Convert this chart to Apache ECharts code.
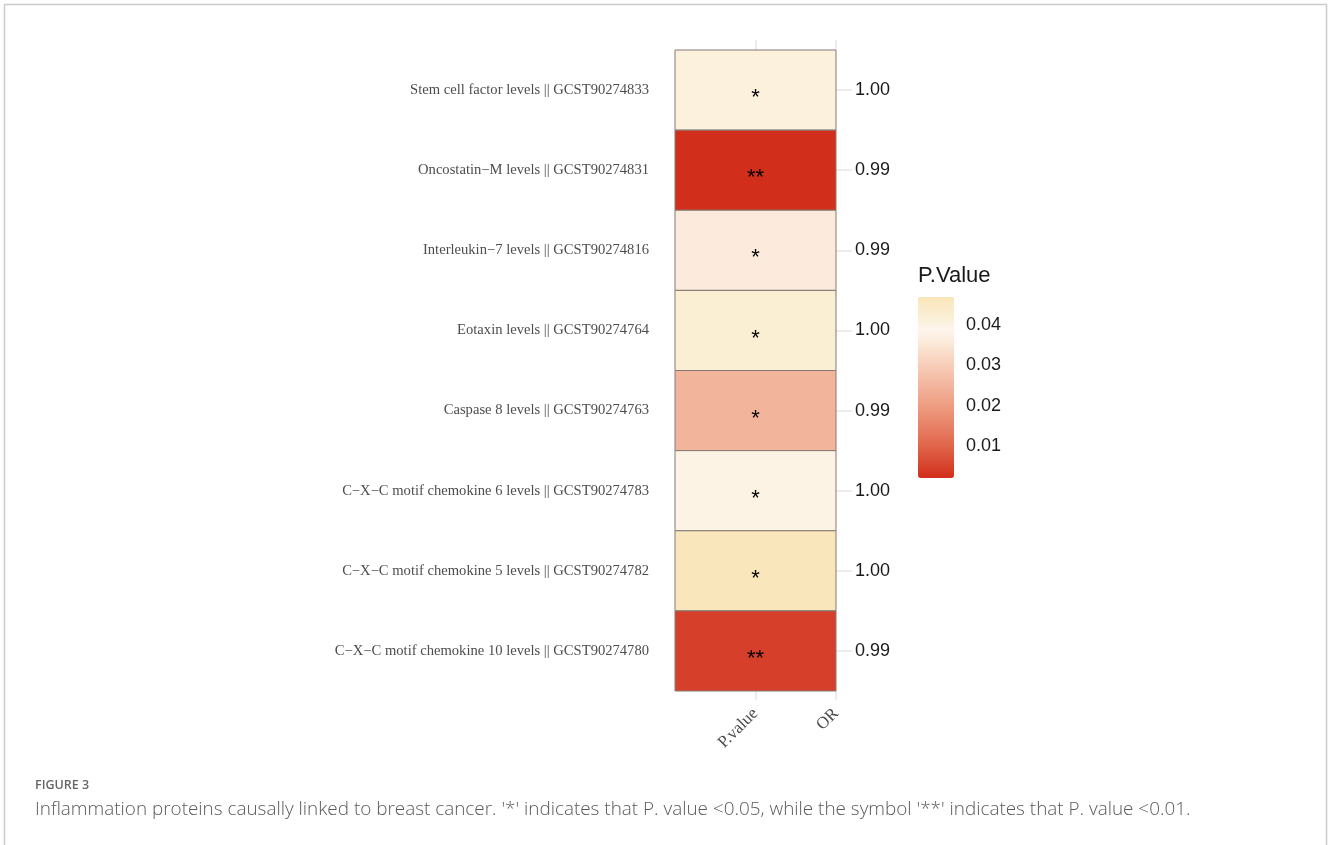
<!DOCTYPE html>
<html>
<head>
<meta charset="utf-8">
<script src="https://cdn.jsdelivr.net/npm/echarts@6/dist/echarts.min.js"></script>
<style>html,body{margin:0;padding:0;background:#fff;}#c{width:1328px;height:845px;}</style>
</head>
<body>
<div id="c"></div>
<script>
// ---- data ----
const categories = [
  'Stem cell factor levels || GCST90274833',
  'Oncostatin\u2212M levels || GCST90274831',
  'Interleukin\u22127 levels || GCST90274816',
  'Eotaxin levels || GCST90274764',
  'Caspase 8 levels || GCST90274763',
  'C\u2212X\u2212C motif chemokine 6 levels || GCST90274783',
  'C\u2212X\u2212C motif chemokine 5 levels || GCST90274782',
  'C\u2212X\u2212C motif chemokine 10 levels || GCST90274780'
];
const pValues = [0.0410, 0.0022, 0.0360, 0.0425, 0.0248, 0.0400, 0.0465, 0.0047];
const orLabels = ['1.00', '0.99', '0.99', '1.00', '0.99', '1.00', '1.00', '0.99'];
const columns = ['', 'P.value', 'OR'];
const legendTicks = [0.01, 0.02, 0.03, 0.04];
const pMin = 0.0021, pMax = 0.047;

// ---- colour scale (style) ----
const stops = [[0.0021,'#d12e1a'],[0.01,'#e1654b'],[0.02,'#ee9d82'],[0.03,'#f7cdb8'],[0.036,'#fcebdc'],[0.039,'#fdf5ec'],[0.041,'#fbf1dc'],[0.047,'#f9e5b8']];
function hex(c){return [parseInt(c.slice(1,3),16),parseInt(c.slice(3,5),16),parseInt(c.slice(5,7),16)];}
function colAt(v){
  for(let i=0;i<stops.length-1;i++){
    const [a,ca]=stops[i],[b,cb]=stops[i+1];
    if(v<=b||i===stops.length-2){
      const t=Math.max(0,Math.min(1,(v-a)/(b-a)));
      const A=hex(ca),B=hex(cb);
      return 'rgb('+A.map((x,k)=>Math.round(x+(B[k]-x)*t)).join(',')+')';
    }
  }
}
const nSteps = 90;
const rangeColors = [];
for(let i=0;i<=nSteps;i++) rangeColors.push(colAt(pMin+(pMax-pMin)*i/nSteps));

const seriesData = categories.map((c,i)=>['P.value', c, pValues[i]]);

const chart = echarts.init(document.getElementById('c'));
chart.setOption({
  animation:false,
  backgroundColor:'#fff',
  title:[
    {text:'P.Value', left:918, top:265, padding:0, textStyle:{fontFamily:'Liberation Sans', fontSize:22, fontWeight:'normal', color:'#1a1a1a'}},
    {text:'FIGURE 3', left:35, top:779, padding:0, textStyle:{fontFamily:'Open Sans', fontSize:12.5, fontWeight:600, color:'#666'}},
    {text:"Inflammation proteins causally linked to breast cancer. '*' indicates that P. value <0.05, while the symbol '**' indicates that P. value <0.01.", left:35, top:800, padding:0, textStyle:{fontFamily:'Open Sans', fontSize:18.9, fontWeight:300, color:'#5a5a5a'}}
  ],
  graphic:[{type:'rect', shape:{x:4.5, y:4.5, width:1322, height:900}, style:{fill:'none', stroke:'#cccccc', lineWidth:1.5}, silent:true}],
  grid:[
    {left:675, top:50, width:161, height:641},
    {left:918, top:297, width:36, height:181}
  ],
  xAxis:[
    {type:'category', gridIndex:0, data:columns, boundaryGap:false, position:'bottom',
     axisLine:{show:false}, splitLine:{show:false},
     axisTick:{show:true, length:9, interval:(i)=>i>0, lineStyle:{color:'#e6e6e6', width:1.5}},
     axisLabel:{interval:(i)=>i>0, rotate:45, margin:20, fontFamily:'Liberation Serif', fontSize:17, color:'#4d4d4d'}},
    {type:'category', gridIndex:0, data:columns, boundaryGap:false, position:'top',
     axisLine:{show:false}, splitLine:{show:false}, axisLabel:{show:false},
     axisTick:{show:true, length:10, interval:(i)=>i>0, lineStyle:{color:'#e6e6e6', width:1.5}}},
    {type:'value', gridIndex:1, show:false, min:0, max:1}
  ],
  yAxis:[
    {type:'category', gridIndex:0, data:categories, inverse:true, position:'left',
     axisLine:{show:false}, axisTick:{show:false}, splitLine:{show:false},
     axisLabel:{margin:26, fontFamily:'Liberation Serif', fontSize:14.6, color:'#4d4d4d', padding:[0,0,11,0]}},
    {type:'category', gridIndex:0, data:categories, inverse:true, position:'right',
     axisLine:{show:false}, splitLine:{show:false},
     axisTick:{show:true, alignWithLabel:true, length:16, lineStyle:{color:'#e6e6e6', width:1.5}},
     axisLabel:{margin:19, fontFamily:'Liberation Sans', fontSize:18, color:'#1a1a1a', formatter:(v,i)=>orLabels[i]}},
    {type:'value', gridIndex:1, position:'left', min:pMin, max:pMax,
     axisLine:{show:false}, splitLine:{show:false}, axisLabel:{show:false},
     axisTick:{show:true, inside:true, length:7, customValues:legendTicks, lineStyle:{color:'rgba(255,255,255,0.85)', width:1.5}}},
    {type:'value', gridIndex:1, position:'right', min:pMin, max:pMax,
     axisLine:{show:false}, splitLine:{show:false},
     axisTick:{show:true, inside:true, length:7, customValues:legendTicks, lineStyle:{color:'rgba(255,255,255,0.85)', width:1.5}},
     axisLabel:{customValues:legendTicks, margin:12, fontFamily:'Liberation Sans', fontSize:18, color:'#1a1a1a', formatter:(v)=>v.toFixed(2)}}
  ],
  visualMap:{
    type:'continuous', min:pMin, max:pMax, dimension:2, seriesIndex:0,
    left:918, top:297, itemWidth:36, itemHeight:181, padding:0,
    calculable:false, text:null, realtime:false,
    inRange:{color:rangeColors}
  },
  series:[{
    type:'custom', xAxisIndex:0, yAxisIndex:0,
    encode:{x:0, y:1},
    data:seriesData,
    renderItem:function(params, api){
      const row = api.value(1);
      const p = api.value(2);
      const l = api.coord([0,row]);
      const r = api.coord([2,row]);
      const c = api.coord([1,row]);
      const h = api.size([0,1])[1];
      return {type:'group', children:[
        {type:'rect', shape:{x:l[0], y:l[1]-h/2, width:r[0]-l[0], height:h},
         style:{fill:api.visual('color'), stroke:'#857a74', lineWidth:1}},
        {type:'text', x:c[0], y:c[1]+8,
         style:{text: p<0.01?'**':'*', fill:'#000', font:'22px "Liberation Sans"', align:'center', verticalAlign:'middle'}}
      ]};
    }
  }]
});
</script>
</body>
</html>
